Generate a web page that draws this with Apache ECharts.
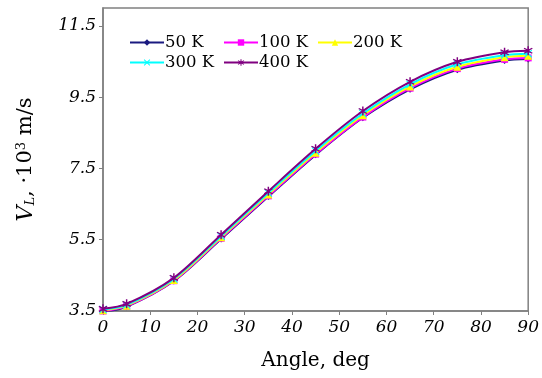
<!DOCTYPE html>
<html><head><meta charset="utf-8">
<script src="https://cdn.jsdelivr.net/npm/echarts@6/dist/echarts.min.js"></script>
<style>html,body{margin:0;padding:0;background:#fff}#c{width:542px;height:378px}</style>
</head><body><div id="c"></div>
<script>
const angles = [0, 5, 15, 25, 35, 45, 55, 65, 75, 85, 90];
const seriesNames = ['50 K', '100 K', '200 K', '300 K', '400 K'];
const v50 = [3.49, 3.62, 4.34, 5.52, 6.71, 7.88, 8.92, 9.72, 10.27, 10.53, 10.57];
const v100 = [3.50, 3.63, 4.35, 5.54, 6.73, 7.90, 8.94, 9.75, 10.30, 10.56, 10.60];
const v200 = [3.52, 3.65, 4.37, 5.57, 6.77, 7.94, 8.99, 9.80, 10.35, 10.62, 10.66];
const v300 = [3.54, 3.67, 4.40, 5.60, 6.81, 7.99, 9.04, 9.86, 10.42, 10.68, 10.72];
const v400 = [3.56, 3.70, 4.43, 5.64, 6.86, 8.05, 9.11, 9.93, 10.49, 10.76, 10.80];
const yTicks = [3.5, 5.5, 7.5, 9.5, 11.5];
const xTicks = [0, 10, 20, 30, 40, 50, 60, 70, 80, 90];

const colors = ['#1a1a80', '#ff00ff', '#ffff00', '#00ffff', '#800080'];
const xSym = 'path://M0,1L1,0L5,4L9,0L10,1L6,5L10,9L9,10L5,6L1,10L0,9L4,5Z';
const starSym = 'path://M4.3,0H5.7V3.3L8.6,1.6L9.3,2.8L6.4,4.5V5.5L9.3,7.2L8.6,8.4L5.7,6.7V10H4.3V6.7L1.4,8.4L0.7,7.2L3.6,5.5V4.5L0.7,2.8L1.4,1.6L4.3,3.3Z';
const symbols = ['diamond', 'rect', 'triangle', xSym, starSym];
const sizes = [7, 7, 8, 8, 9];
const vals = [v50, v100, v200, v300, v400];
const font = 'DejaVu Serif';

const series = seriesNames.map((n, i) => ({
  name: n, type: 'line', smooth: 0.3,
  data: angles.map((a, j) => [a, vals[i][j]]),
  symbol: symbols[i], symbolSize: sizes[i], showSymbol: true,
  lineStyle: { color: colors[i], width: 2 },
  itemStyle: { color: colors[i] },
  z: 2 + i
}));

const legendPos = [[124, 29], [218, 29], [312, 29], [124, 49], [218, 49]];
const legends = seriesNames.map((n, i) => ({
  data: [n], left: legendPos[i][0], top: legendPos[i][1],
  itemWidth: 34, itemHeight: 8, itemGap: 0,
  textStyle: { fontFamily: font, fontSize: 16.5, color: '#000', padding: [0, 0, 0, -4] }
}));

const chart = echarts.init(document.getElementById('c'));
chart.setOption({
  animation: false,
  color: colors,
  legend: legends,
  grid: { left: 103, right: 10, top: 8, bottom: 67, show: true, borderColor: '#808080', borderWidth: 1.5 },
  xAxis: {
    type: 'value', min: 0, max: 90, interval: 10,
    name: 'Angle, deg', nameLocation: 'middle', nameGap: 40,
    nameTextStyle: { fontFamily: font, fontSize: 20, color: '#000' },
    axisLine: { lineStyle: { color: '#808080', width: 1.5 } },
    axisTick: { show: true, length: 4, lineStyle: { color: '#808080' } },
    axisLabel: { fontFamily: font, fontStyle: 'italic', fontSize: 17, color: '#000', margin: 8 },
    splitLine: { show: false }
  },
  yAxis: {
    type: 'value', min: 3.5, max: 12, interval: 2,
    name: '{v|V}{s|L}{n|, ·10}{p|3}{n| m/s}', nameLocation: 'middle', nameGap: 66, nameRotate: 90,
    nameTextStyle: {
      fontFamily: font, color: '#000',
      rich: {
        v: { fontFamily: font, fontSize: 22, fontStyle: 'italic', color: '#000' },
        s: { fontFamily: font, fontSize: 13, fontStyle: 'italic', color: '#000', padding: [9, 0, 0, 0] },
        n: { fontFamily: font, fontSize: 21, color: '#000' },
        p: { fontFamily: font, fontSize: 13, color: '#000', padding: [0, 0, 9, 0] }
      }
    },
    axisLine: { lineStyle: { color: '#808080', width: 1.5 } },
    axisTick: { show: true, length: 4, lineStyle: { color: '#808080' }, customValues: yTicks },
    axisLabel: { fontFamily: font, fontStyle: 'italic', fontSize: 17, color: '#000', margin: 7, customValues: yTicks,
      formatter: v => v.toFixed(1) },
    splitLine: { show: false }
  },
  series: series
});
</script></body></html>
